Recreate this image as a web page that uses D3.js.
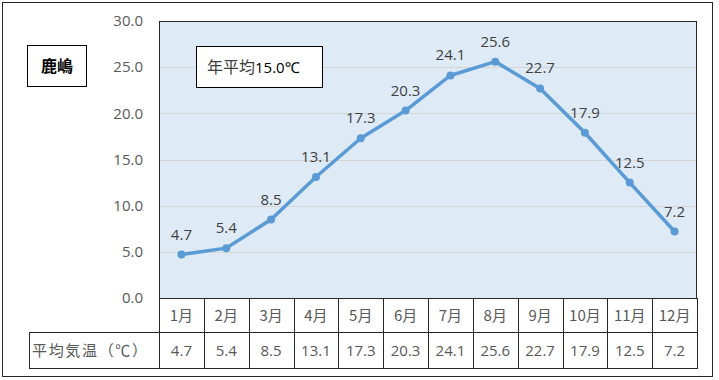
<!DOCTYPE html>
<html>
<head>
<meta charset="utf-8">
<script src="https://cdn.jsdelivr.net/npm/d3@7"></script>
<style>
  body { margin: 0; background: #fff; }
  svg text { font-family: "Noto Sans CJK JP", "Noto Sans", sans-serif; }
</style>
</head>
<body>
<svg id="chart" width="719" height="380"></svg>
<script>
// data
const months = ['1月', '2月', '3月', '4月', '5月', '6月', '7月', '8月', '9月', '10月', '11月', '12月'];
const temps = [4.7, 5.4, 8.5, 13.1, 17.3, 20.3, 24.1, 25.6, 22.7, 17.9, 12.5, 7.2];
const yTicks = [0, 5, 10, 15, 20, 25, 30];
const rowLabel = '平均気温（℃）';
const station = '鹿嶋';
const avgPrefix = '年平均';
const avgValue = '15.0℃';

const svg = d3.select('#chart');

// outer frame
svg.append('rect')
  .attr('x', 2.5).attr('y', 2.5)
  .attr('width', 710).attr('height', 374)
  .attr('fill', '#fff')
  .attr('stroke', '#262626');

// plot area
const plotL = 159, plotR = 697, plotT = 21, plotB = 298;

const x = d3.scaleBand().domain(months).range([plotL, plotR]);
const y = d3.scaleLinear().domain([0, 30]).range([plotB, plotT]);

svg.append('rect')
  .attr('x', plotL).attr('y', plotT)
  .attr('width', plotR - plotL).attr('height', plotB - plotT)
  .attr('fill', '#DEEAF6');

// gridlines
svg.append('g')
  .selectAll('line')
  .data(yTicks.slice(1, -1))
  .enter().append('line')
  .attr('x1', plotL).attr('x2', plotR)
  .attr('y1', d => Math.round(y(d)) + 0.5)
  .attr('y2', d => Math.round(y(d)) + 0.5)
  .attr('stroke', '#D5D5D5');

svg.append('rect')
  .attr('x', plotL + 0.5).attr('y', plotT + 0.5)
  .attr('width', plotR - plotL - 1).attr('height', plotB - plotT)
  .attr('fill', 'none')
  .attr('stroke', '#262626');

// y axis
const yAxis = d3.axisLeft(y).tickValues(yTicks).tickFormat(d3.format('.1f')).tickSize(0).tickPadding(16);
const gy = svg.append('g').attr('transform', `translate(${plotL},0)`).call(yAxis);
gy.select('.domain').remove();
gy.selectAll('text')
  .attr('fill', '#595959')
  .style('font-size', '15px')
  .style('font-family', '"Open Sans", "Noto Sans", sans-serif');

// line
const line = d3.line()
  .x((d, i) => x(months[i]) + x.bandwidth() / 2)
  .y(d => y(d));

svg.append('path')
  .datum(temps)
  .attr('d', line)
  .attr('fill', 'none')
  .attr('stroke', '#5B9BD5')
  .attr('stroke-width', 3.5)
  .attr('stroke-linejoin', 'round');

svg.append('g')
  .selectAll('circle')
  .data(temps)
  .enter().append('circle')
  .attr('cx', (d, i) => x(months[i]) + x.bandwidth() / 2)
  .attr('cy', d => y(d))
  .attr('r', 4)
  .attr('fill', '#5B9BD5');

svg.append('g')
  .selectAll('text')
  .data(temps)
  .enter().append('text')
  .attr('x', (d, i) => x(months[i]) + x.bandwidth() / 2)
  .attr('y', d => y(d) - 15)
  .attr('text-anchor', 'middle')
  .attr('fill', '#404040')
  .style('font-size', '15px')
  .style('font-family', '"Open Sans", "Noto Sans", sans-serif')
  .text(d => d3.format('.1f')(d));

// table
const row1 = [298, 332], row2 = [332, 368];
const table = svg.append('g').attr('stroke', '#262626').attr('fill', 'none');

const colEdges = months.map(m => x(m)).concat([plotR]);
table.selectAll('line.col')
  .data(colEdges)
  .enter().append('line')
  .attr('class', 'col')
  .attr('x1', d => Math.round(d) + 0.5).attr('x2', d => Math.round(d) + 0.5)
  .attr('y1', row1[0]).attr('y2', row2[1]);
table.append('line')
  .attr('x1', 29).attr('x2', plotR + 1)
  .attr('y1', row2[0] + 0.5).attr('y2', row2[0] + 0.5);
table.append('line')
  .attr('x1', 29).attr('x2', plotR + 1)
  .attr('y1', row2[1] + 0.5).attr('y2', row2[1] + 0.5);
table.append('line')
  .attr('x1', 29.5).attr('x2', 29.5)
  .attr('y1', row2[0]).attr('y2', row2[1] + 1);

svg.append('g')
  .selectAll('text')
  .data(months)
  .enter().append('text')
  .attr('x', d => x(d) + x.bandwidth() / 2)
  .attr('y', (row1[0] + row1[1]) / 2 + 6)
  .attr('text-anchor', 'middle')
  .attr('fill', '#595959')
  .style('font-size', '15px')
  .text(d => d);

svg.append('g')
  .selectAll('text')
  .data(temps)
  .enter().append('text')
  .attr('x', (d, i) => x(months[i]) + x.bandwidth() / 2)
  .attr('y', (row2[0] + row2[1]) / 2 + 6)
  .attr('text-anchor', 'middle')
  .attr('fill', '#595959')
  .style('font-size', '15px')
  .style('font-family', '"Open Sans", "Noto Sans", sans-serif')
  .text(d => d3.format('.1f')(d));

svg.append('text')
  .attr('x', 32).attr('y', (row2[0] + row2[1]) / 2 + 6)
  .attr('fill', '#595959')
  .style('font-size', '15px')
  .attr('textLength', 115)
  .text(rowLabel);

// station label box
svg.append('rect')
  .attr('x', 27.5).attr('y', 45.5).attr('width', 59).attr('height', 41)
  .attr('fill', '#fff').attr('stroke', '#000');
svg.append('text')
  .attr('x', 57).attr('y', 72)
  .attr('text-anchor', 'middle')
  .attr('fill', '#000')
  .style('font-size', '16px')
  .style('font-weight', 'bold')
  .text(station);

// annual average box
svg.append('rect')
  .attr('x', 196.5).attr('y', 46.5).attr('width', 126).attr('height', 41)
  .attr('fill', '#fff').attr('stroke', '#000');
const avg = svg.append('text')
  .attr('x', 207).attr('y', 73)
  .style('font-size', '16px');
avg.append('tspan').attr('fill', '#404040').text(avgPrefix);
avg.append('tspan').attr('fill', '#000')
  .style('font-family', '"Open Sans", "Noto Sans", sans-serif')
  .style('font-size', '15px')
  .text(avgValue);
</script>
</body>
</html>
